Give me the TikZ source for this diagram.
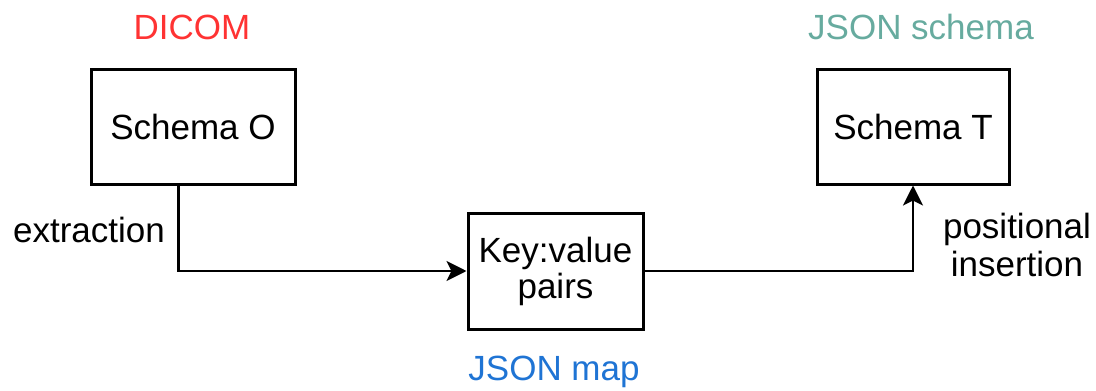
\documentclass[tikz,border=0pt]{standalone}
\usepackage{fontspec}
\setmainfont{Liberation Sans}
\usetikzlibrary{arrows.meta,calc}
\definecolor{dicomred}{HTML}{FF3333}
\definecolor{mapblue}{HTML}{1F74D4}
\definecolor{schemateal}{HTML}{67AB9F}
\begin{document}
\begin{tikzpicture}[x=1pt,y=-1pt,
  box/.style={draw=black,line width=3pt,inner sep=0pt,align=center,font=\fontsize{35}{40}\selectfont},
  lbl/.style={inner sep=0pt,align=center,font=\fontsize{35}{40}\selectfont},
  conn/.style={line width=2.8pt,-{Stealth[length=20pt,width=20pt,inset=5pt]}}]
\useasboundingbox (0,0) rectangle (1096,391);
\node[box,minimum width=204pt,minimum height=115pt] (o) at (193,126.5) {Schema O};
\node[box,minimum width=192pt,minimum height=115pt] (t) at (913,126.5) {Schema T};
\node[box,minimum width=175pt,minimum height=116pt] (k) at (555.5,271) {Key:value\\[-4pt]pairs};
\node[lbl,text=dicomred] (dicom) at (192,27) {DICOM};
\node[lbl,text=schemateal] (js) at (921,27) {JSON schema};
\node[lbl,text=mapblue] (jm) at (554,372) {JSON map};
\node[lbl] (ex) at (89,230) {extraction};
\node[lbl] (pi) at (1017,245) {positional\\[-2pt]insertion};
\coordinate (os) at ($(o.south west)!0.431!(o.south east)$);
\draw[conn] (os) |- (k.west);
\draw[conn] (k.east) -| (t.south);
\end{tikzpicture}
\end{document}
